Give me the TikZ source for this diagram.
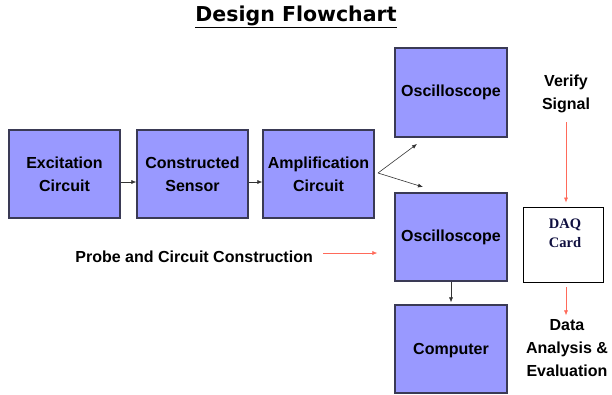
\documentclass[tikz,border=0pt]{standalone}
\usepackage{fontspec}
\setmainfont{Liberation Sans}
\newfontfamily\titlefont{DejaVu Sans}
\newfontfamily\serifb{Liberation Serif}
\usetikzlibrary{arrows.meta}
\definecolor{boxfill}{HTML}{9999FF}
\definecolor{boxline}{HTML}{3A3A55}
\definecolor{redarr}{HTML}{FF6A5A}
\definecolor{daqtext}{HTML}{101040}
\tikzset{
  blk/.style={draw=boxline, line width=1.2pt, fill=boxfill, minimum width=111pt, minimum height=88pt, inner sep=0pt, align=center, font=\bfseries\fontsize{16}{23}\selectfont},
  lbl/.style={align=center, inner sep=0pt, font=\bfseries\fontsize{16}{23}\selectfont},
  blkarrow/.style={draw=black!80, line width=0.6pt, -{Latex[length=5pt,width=4pt]}},
  redarrow/.style={draw=redarr, line width=0.6pt, -{Latex[length=5pt,width=4pt]}},
}
\begin{document}
\begin{tikzpicture}[x=1pt,y=-1pt]
\useasboundingbox (0,0) rectangle (612,394);
\node[font=\titlefont\bfseries\fontsize{20.5}{24}\selectfont, inner sep=0pt] (title) at (296,17) {\underline{Design Flowchart}};
\node[blk] (exc) at (64.5,174) {Excitation\\Circuit};
\node[blk] (sen) at (192.5,174) {Constructed\\Sensor};
\node[blk] (amp) at (318.5,174) {Amplification\\Circuit};
\node[blk, minimum width=112pt, minimum height=89pt] (osc1) at (451,92.5) {Oscilloscope};
\node[blk, minimum width=112pt] (osc2) at (451,237) {Oscilloscope};
\node[blk, minimum width=112pt] (comp) at (451,349) {};
\node[lbl] (compt) at (451,351) {Computer};
\node[draw=black, line width=0.8pt, fill=white, minimum width=80pt, minimum height=75pt, inner sep=0pt] (daq) at (563,244.5) {};
\node[align=center, inner sep=0pt, text=daqtext, font=\serifb\bfseries\fontsize{14.5}{19}\selectfont] (daqt) at (565,233) {DAQ\\Card};
\node[lbl] (verify) at (566,93.5) {Verify\\Signal};
\node[lbl] (data) at (567,348.5) {Data\\Analysis \&\\Evaluation};
\node[lbl, anchor=east] (probe) at (313,257) {Probe and Circuit Construction};
\coordinate (fan) at (378,173);
\coordinate (fanup) at (417,144);
\coordinate (fandn) at (423,187);
\coordinate (va) at (566,122);
\draw[blkarrow] ([yshift=-8pt]exc.east) -- ([yshift=-8pt]sen.west);
\draw[blkarrow] ([yshift=-8pt]sen.east) -- ([yshift=-8pt]amp.west);
\draw[blkarrow] (fan) -- (fanup);
\draw[blkarrow] (fan) -- (fandn);
\draw[blkarrow] (osc2.south) -- ([yshift=2pt]comp.north);
\draw[redarrow] ([xshift=10pt,yshift=4pt]probe.east) -- ([xshift=-17pt,yshift=-16pt]osc2.west);
\draw[redarrow] (va) -- ([xshift=3pt,yshift=4pt]daq.north);
\draw[redarrow] ([xshift=3pt,yshift=-5pt]daq.south) -- ([xshift=3pt,yshift=-33pt]daq.south);
\end{tikzpicture}
\end{document}
